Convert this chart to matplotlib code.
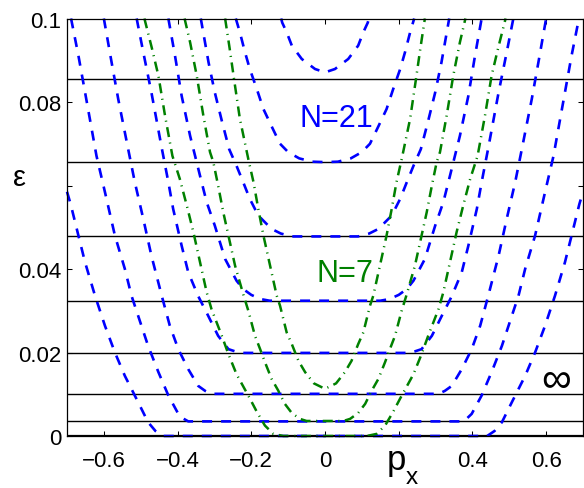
import numpy as np
import matplotlib
matplotlib.use('Agg')
import matplotlib.pyplot as plt

OUTPUT_CHART = "out.png"

# ── Data (right half, p_x >= 0; curves are symmetric in p_x) ──────────────────
# N = infinity levels (black solid lines)
LEVELS_INF = [0.0, 0.0035, 0.0101, 0.0199, 0.0324, 0.0478, 0.0656, 0.0855]

# N = 21 bands (blue dashed)
BLUE0_P = [0.0, 0.44, 0.46, 0.48, 0.507, 0.543, 0.570, 0.597, 0.624, 0.651, 0.669, 0.69, 0.70]
BLUE0_E = [0.0, 0.0, 0.0012, 0.0033, 0.0081, 0.0144, 0.0200, 0.0264, 0.0336, 0.0416, 0.0480, 0.0555, 0.0585]

BLUE1_P = [0.0, 0.371, 0.385, 0.398, 0.425, 0.452, 0.480, 0.507, 0.525, 0.543, 0.570, 0.597,
           0.620, 0.633, 0.651, 0.669, 0.689]
BLUE1_E = [0.0035, 0.0035, 0.0042, 0.0053, 0.0097, 0.0153, 0.0216, 0.0288, 0.0336, 0.0400, 0.0480,
           0.0584, 0.0671, 0.0735, 0.0823, 0.0911, 0.1000]

BLUE2_P = [0.0, 0.308, 0.325, 0.344, 0.371, 0.398, 0.421, 0.443, 0.471, 0.493, 0.516, 0.534,
           0.561, 0.579, 0.600]
BLUE2_E = [0.0101, 0.0101, 0.0108, 0.0120, 0.0160, 0.0208, 0.0264, 0.0336, 0.0432, 0.0520, 0.0608,
           0.0687, 0.0807, 0.0895, 0.1000]

BLUE3_P = [0.0, 0.226, 0.245, 0.262, 0.290, 0.317, 0.344, 0.371, 0.389, 0.412, 0.425, 0.443,
           0.471, 0.493, 0.511]
BLUE3_E = [0.0199, 0.0199, 0.0203, 0.0208, 0.0240, 0.0288, 0.0335, 0.0392, 0.0456, 0.0544, 0.0608,
           0.0690, 0.0823, 0.0919, 0.1000]

BLUE4_P = [0.0, 0.15, 0.175, 0.20, 0.222, 0.240, 0.271, 0.299, 0.321, 0.339, 0.357, 0.366,
           0.389, 0.407, 0.425]
BLUE4_E = [0.0324, 0.0324, 0.0328, 0.0338, 0.0352, 0.0372, 0.0424, 0.0504, 0.0560, 0.0623, 0.0687,
           0.0719, 0.0815, 0.0911, 0.1000]

BLUE5_P = [0.0, 0.09, 0.12, 0.145, 0.181, 0.204, 0.222, 0.240, 0.260, 0.280, 0.299, 0.316, 0.337]
BLUE5_E = [0.0478, 0.0478, 0.0485, 0.0496, 0.0528, 0.0568, 0.0608, 0.0647, 0.0687, 0.0755, 0.0823,
           0.0895, 0.1000]

BLUE6_P = [0.0, 0.035, 0.070, 0.100, 0.122, 0.145, 0.167, 0.185, 0.204, 0.217, 0.231, 0.242]
BLUE6_E = [0.0656, 0.0657, 0.0665, 0.0680, 0.0700, 0.0742, 0.0783, 0.0831, 0.0879, 0.0919, 0.0967,
           0.1000]

BLUE7_P = [0.0, 0.027, 0.063, 0.090, 0.104, 0.116, 0.119]
BLUE7_E = [0.0871, 0.0879, 0.0903, 0.0935, 0.0967, 0.0990, 0.1000]

# N = 7 bands (green dash-dot)
GREEN0_P = [0.0, 0.113, 0.140, 0.163, 0.185, 0.204, 0.240, 0.262, 0.280, 0.308, 0.321, 0.339,
            0.357, 0.375, 0.394, 0.414, 0.434, 0.452, 0.470, 0.490]
GREEN0_E = [0.0, 0.0, 0.0005, 0.0025, 0.0058, 0.0090, 0.0148, 0.0196, 0.0240, 0.0304, 0.0344,
            0.0416, 0.0488, 0.0552, 0.0616, 0.0671, 0.0767, 0.0863, 0.0930, 0.1000]

GREEN1_P = [0.0, 0.050, 0.068, 0.090, 0.109, 0.127, 0.145, 0.163, 0.176, 0.190, 0.208, 0.222,
            0.244, 0.262, 0.276, 0.290, 0.303, 0.312, 0.330, 0.348, 0.366, 0.381]
GREEN1_E = [0.0036, 0.0036, 0.0041, 0.0055, 0.0077, 0.0109, 0.0137, 0.0177, 0.0208, 0.0240, 0.0300,
            0.0340, 0.0408, 0.0480, 0.0536, 0.0600, 0.0656, 0.0680, 0.0767, 0.0863, 0.0943, 0.1000]

GREEN2_P = [0.0, 0.030, 0.054, 0.072, 0.090, 0.104, 0.122, 0.131, 0.149, 0.167, 0.181, 0.194,
            0.208, 0.231, 0.246, 0.259, 0.271]
GREEN2_E = [0.0113, 0.0126, 0.0153, 0.0180, 0.0220, 0.0248, 0.0312, 0.0336, 0.0408, 0.0480, 0.0544,
            0.0608, 0.0663, 0.0760, 0.0850, 0.0930, 0.1000]

X_TICKS = [-0.6, -0.4, -0.2, 0.0, 0.2, 0.4, 0.6]
X_TICKLABELS = ['\u22120.6', '\u22120.4', '\u22120.2', '0', '', '0.4', '0.6']
Y_TICKS = [0.0, 0.02, 0.04, 0.06, 0.08, 0.1]
Y_TICKLABELS = ['0', '0.02', '0.04', '', '0.08', '0.1']

BLUE = '#0000FF'
GREEN = '#008000'


def mirror(p, e):
    """Build the full symmetric curve from its p_x >= 0 half."""
    p = np.asarray(p)
    e = np.asarray(e)
    return np.concatenate([-p[::-1], p[1:]]), np.concatenate([e[::-1], e[1:]])


def main():
    plt.rcParams['font.family'] = ['Liberation Sans', 'DejaVu Sans']
    plt.rcParams['lines.scale_dashes'] = False

    fig = plt.figure(figsize=(5.84, 4.89), dpi=100)
    ax = fig.add_axes([67 / 584, 52 / 489, 516 / 584, 417.5 / 489])

    # ── N = infinity levels ───────────────────────────────────────────────────
    for lev in LEVELS_INF:
        ax.axhline(lev, color='k', lw=1.6 if lev == 0 else 1.0, zorder=2)

    # ── N = 21 (blue dashed) ──────────────────────────────────────────────────
    blue = [(BLUE0_P, BLUE0_E), (BLUE1_P, BLUE1_E), (BLUE2_P, BLUE2_E), (BLUE3_P, BLUE3_E),
            (BLUE4_P, BLUE4_E), (BLUE5_P, BLUE5_E), (BLUE6_P, BLUE6_E), (BLUE7_P, BLUE7_E)]
    for p, e in blue:
        x, y = mirror(p, e)
        ax.plot(x, y, color=BLUE, lw=1.9, dashes=(7.2, 6.5), clip_on=False, zorder=3)

    # ── N = 7 (green dash-dot) ────────────────────────────────────────────────
    green = [(GREEN0_P, GREEN0_E), (GREEN1_P, GREEN1_E), (GREEN2_P, GREEN2_E)]
    for p, e in green:
        x, y = mirror(p, e)
        ax.plot(x, y, color=GREEN, lw=1.8, dashes=(7.2, 4.0, 0.8, 4.0), clip_on=False, zorder=4)

    # ── Annotations ───────────────────────────────────────────────────────────
    ax.text(-0.068, 0.0743, 'N=21', color=BLUE, fontsize=22, va='baseline', ha='left')
    ax.text(-0.023, 0.0372, 'N=7', color=GREEN, fontsize=22, va='baseline', ha='left')
    ax.text(0.627, 0.0133, '\u221e', color='k', fontsize=30, va='center', ha='center')

    fig.text(20 / 584, 1 - 177.5 / 489, '\u03b5', fontsize=21, ha='center', va='center')
    fig.text(387 / 584, 1 - 470 / 489, 'p', fontsize=25, ha='left', va='baseline')
    fig.text(406 / 584, 1 - 484 / 489, 'x', fontsize=17.5, ha='left', va='baseline')

    # ── Axes ──────────────────────────────────────────────────────────────────
    ax.set_xlim(-0.7, 0.7)
    ax.set_ylim(0, 0.1)
    ax.set_xticks(X_TICKS)
    ax.set_xticklabels(X_TICKLABELS)
    ax.set_yticks(Y_TICKS)
    ax.set_yticklabels(Y_TICKLABELS)
    ax.tick_params(direction='in', top=True, right=True, length=3.5, width=0.75,
                   labelsize=16, colors='k')
    ax.tick_params(axis='x', pad=10)
    ax.tick_params(axis='y', pad=4)
    for s in ax.spines.values():
        s.set_linewidth(0.9)
        s.set_zorder(5)

    fig.savefig(OUTPUT_CHART, dpi=100)
    plt.close(fig)


if __name__ == "__main__":
    main()
